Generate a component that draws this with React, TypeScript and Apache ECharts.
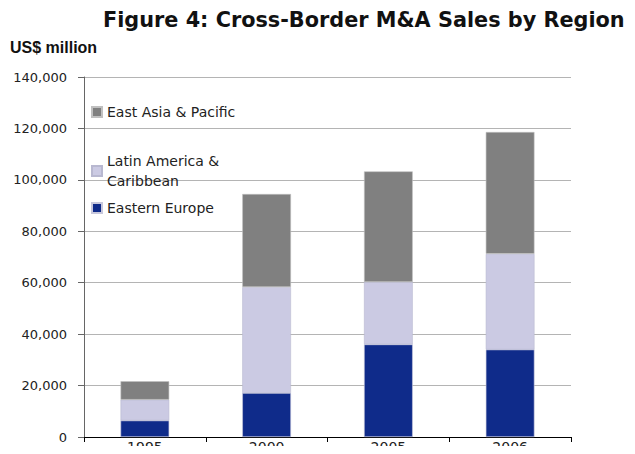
import React, { useEffect, useRef } from "react";
import * as echarts from "echarts";

const categories = ["1995", "2000", "2005", "2006"];
const easternEurope = [6400, 17100, 36000, 34000];
const latinAmerica = [8100, 41200, 24300, 37200];
const eastAsia = [7200, 36200, 43000, 47400];
const yTicks = [0, 20000, 40000, 60000, 80000, 100000, 120000, 140000];

const FONT = "DejaVu Sans";

export default function App() {
  const ref = useRef<HTMLDivElement>(null);
  useEffect(() => {
    if (!ref.current) return;
    const chart = echarts.init(ref.current, undefined, { renderer: "svg" });
    const legendBase = {
      orient: "vertical",
      left: 91,
      padding: 0,
      itemWidth: 10,
      itemHeight: 10,
      itemGap: 0,
      icon: "rect",
      selectedMode: false,
      textStyle: { fontFamily: FONT, fontSize: 14, color: "#222", lineHeight: 20 },
    };
    chart.setOption({
      animation: false,
      title: [
        {
          text: "Figure 4: Cross-Border M&A Sales by Region",
          left: 103,
          top: 9,
          padding: 0,
          textStyle: { fontFamily: FONT, fontSize: 20.8, fontWeight: "bold", color: "#111" },
        },
        {
          text: "US$ million",
          left: 10,
          top: 39,
          padding: 0,
          textStyle: { fontFamily: "Liberation Sans", fontSize: 16, fontWeight: "bold", color: "#111" },
        },
      ],
      legend: [
        { ...legendBase, top: 102, data: ["East Asia & Pacific"] },
        { ...legendBase, top: 151, data: ["Latin America &\nCaribbean"] },
        { ...legendBase, top: 198, data: ["Eastern Europe"] },
      ],
      grid: { left: 84, right: 64, top: 77, bottom: 17, containLabel: false },
      xAxis: {
        type: "category",
        data: categories,
        boundaryGap: true,
        axisLine: { lineStyle: { color: "#000", width: 1 } },
        axisTick: { show: true, length: 5, alignWithLabel: false, lineStyle: { color: "#000" } },
        axisLabel: { fontFamily: FONT, fontSize: 14, color: "#222", margin: 3 },
      },
      yAxis: {
        type: "value",
        min: 0,
        max: 140000,
        interval: 20000,
        axisLine: { show: true, lineStyle: { color: "#666", width: 1 } },
        axisTick: { show: true, length: 6, lineStyle: { color: "#666" } },
        splitLine: { lineStyle: { color: "#b4b4b4", width: 1 } },
        axisLabel: {
          fontFamily: FONT,
          fontSize: 13,
          color: "#222",
          margin: 17,
          formatter: (v: number) => (yTicks.includes(v) ? v.toLocaleString("en-US") : ""),
        },
      },
      series: [
        {
          name: "Eastern Europe",
          type: "bar",
          stack: "total",
          data: easternEurope,
          barWidth: "40%",
          itemStyle: { color: "#0f2b8a", borderColor: "#c8c8dc", borderWidth: 0.6 },
        },
        {
          name: "Latin America &\nCaribbean",
          type: "bar",
          stack: "total",
          data: latinAmerica,
          itemStyle: { color: "#cbcae3", borderColor: "#b8b8d0", borderWidth: 0.6 },
        },
        {
          name: "East Asia & Pacific",
          type: "bar",
          stack: "total",
          data: eastAsia,
          itemStyle: { color: "#808080", borderColor: "#c0c0c0", borderWidth: 0.6 },
        },
      ],
    });
    return () => chart.dispose();
  }, []);
  return <div ref={ref} style={{ width: 635, height: 454, margin: -8 }} />;
}
